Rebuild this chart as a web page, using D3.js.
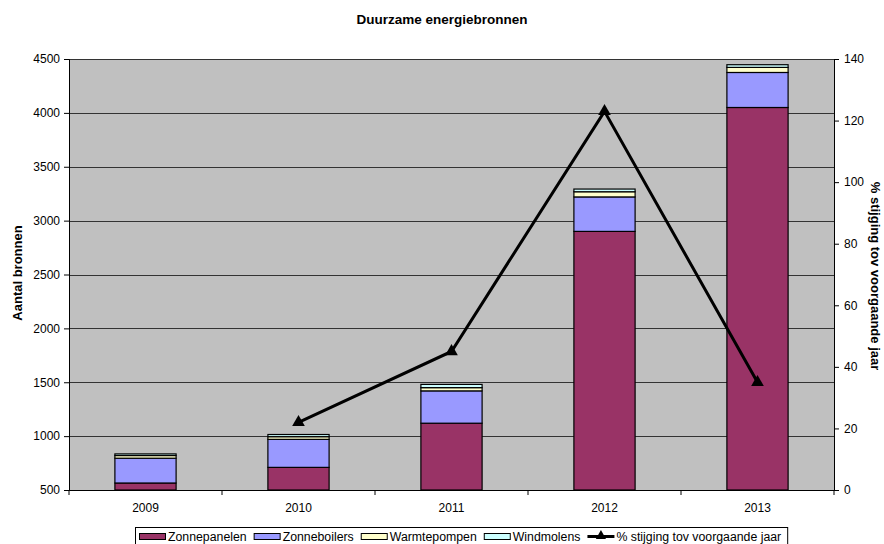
<!DOCTYPE html>
<html><head><meta charset="utf-8">
<script src="https://cdn.jsdelivr.net/npm/d3@7"></script>
<style>body{margin:0;background:#fff;} text{font-family:"Liberation Sans",Arial,sans-serif;}</style>
</head><body>
<svg id="c" width="884" height="544"></svg>
<script>
const years = ["2009","2010","2011","2012","2013"];
const zonnepanelen = [565, 710, 1120, 2900, 4050];
const zonneboilers = [230, 260, 300, 320, 325];
const warmtepompen = [25, 25, 30, 48, 47];
const windmolens = [15, 20, 30, 25, 25];
const stijging = [null, 22, 45, 123, 35];
const leftTicks = [500,1000,1500,2000,2500,3000,3500,4000,4500];
const rightTicks = [0,20,40,60,80,100,120,140];
const seriesNames = ["Zonnepanelen","Zonneboilers","Warmtepompen","Windmolens"];
const lineName = "% stijging tov voorgaande jaar";
const colors = ["#993366","#9999FF","#FFFFCC","#CCFFFF"];

const svg = d3.select("#c");
const L = 69, R = 834, T = 59, B = 490;
const x = d3.scaleBand().domain(years).range([L,R]).paddingInner(0.6).paddingOuter(0.3);
const xb = d3.scaleBand().domain(years).range([L,R]);
const y = d3.scaleLinear().domain([500,4500]).range([B,T]);
const y2 = d3.scaleLinear().domain([0,140]).range([B,T]);

svg.append("rect").attr("x",L).attr("y",T).attr("width",R-L).attr("height",B-T).attr("fill","#C0C0C0");
svg.append("g").selectAll("line").data(leftTicks.slice(1)).join("line")
  .attr("x1",L).attr("x2",R).attr("y1",d=>Math.round(y(d))+0.5).attr("y2",d=>Math.round(y(d))+0.5)
  .attr("stroke","#333").attr("stroke-width",1);

const rows = years.map((yr,i)=>({year:yr, Zonnepanelen:zonnepanelen[i], Zonneboilers:zonneboilers[i], Warmtepompen:warmtepompen[i], Windmolens:windmolens[i]}));
const stack = d3.stack().keys(seriesNames)(rows);
const clip = v => Math.max(v, 500);
svg.append("g").selectAll("g").data(stack).join("g").attr("fill",(d,i)=>colors[i])
  .selectAll("rect").data(d=>d).join("rect")
  .attr("x",d=>x(d.data.year)).attr("width",x.bandwidth())
  .attr("y",d=>y(clip(d[1]))).attr("height",d=>y(clip(d[0]))-y(clip(d[1])))
  .attr("stroke","#000").attr("stroke-width",1.2);

// axes
const ga = svg.append("g").attr("transform",`translate(${L},0)`)
  .call(d3.axisLeft(y).tickValues(leftTicks).tickSize(5).tickPadding(4).tickFormat(d3.format("d")));
const gr = svg.append("g").attr("transform",`translate(${R},0)`)
  .call(d3.axisRight(y2).tickValues(rightTicks).tickSize(5).tickPadding(5).tickFormat(d3.format("d")));
const gb = svg.append("g").attr("transform",`translate(0,${B})`)
  .call(d3.axisBottom(xb).tickSize(0).tickPadding(13));
[ga,gr,gb].forEach(g=>{g.selectAll("text").attr("font-size",12).attr("fill","#000").attr("font-family","Liberation Sans, Arial"); g.select(".domain").attr("stroke","#000"); g.selectAll("line").attr("stroke","#000");});
gb.selectAll(".tick line").remove();
gb.selectAll("line.sep").data(d3.range(years.length+1)).join("line").attr("class","sep")
  .attr("x1",i=>L+i*xb.step()).attr("x2",i=>L+i*xb.step()).attr("y1",0).attr("y2",5).attr("stroke","#000");
gb.select(".domain").attr("d",`M${L},0.5H${R}`);

// line
const lineData = years.map((yr,i)=>({year:yr,v:stijging[i]})).filter(d=>d.v!=null);
const cx = d=>xb(d.year)+xb.bandwidth()/2;
svg.append("path").datum(lineData).attr("fill","none").attr("stroke","#000").attr("stroke-width",3)
  .attr("d",d3.line().x(cx).y(d=>y2(d.v)));
svg.append("g").selectAll("path").data(lineData).join("path")
  .attr("transform",d=>`translate(${cx(d)},${y2(d.v)})`)
  .attr("d",d3.symbol(d3.symbolTriangle,70)).attr("fill","#000");

// titles
svg.append("text").attr("x",442).attr("y",24).attr("text-anchor","middle").attr("font-size",13.5).attr("font-weight","bold").text("Duurzame energiebronnen");
svg.append("text").attr("transform","translate(22,273) rotate(-90)").attr("text-anchor","middle").attr("font-size",13).attr("font-weight","bold").text("Aantal bronnen");
svg.append("text").attr("transform","translate(871,276) rotate(90)").attr("text-anchor","middle").attr("font-size",13).attr("font-weight","bold").text(lineName);

// legend
const lg = svg.append("g");
const items = seriesNames.map((n,i)=>({name:n,color:colors[i],type:"rect"})).concat([{name:lineName,type:"line"}]);
let cxp = 139;
const ly = 537;
items.forEach(it=>{
  if(it.type==="rect"){
    lg.append("rect").attr("x",cxp+0.5).attr("y",ly-3.5).attr("width",26).attr("height",6).attr("fill",it.color).attr("stroke","#000");
  } else {
    lg.append("line").attr("x1",cxp).attr("x2",cxp+27).attr("y1",ly-0.5).attr("y2",ly-0.5).attr("stroke","#000").attr("stroke-width",3);
    lg.append("path").attr("transform",`translate(${cxp+13.5},${ly-1})`).attr("d",d3.symbol(d3.symbolTriangle,45)).attr("fill","#000");
  }
  const t = lg.append("text").attr("x",cxp+29).attr("y",ly+4).attr("font-size",12.3).text(it.name);
  cxp += 29 + t.node().getComputedTextLength() + 7;
});
lg.insert("rect",":first-child").attr("x",135.5).attr("y",527.5).attr("width",cxp-136).attr("height",20).attr("fill","#fff").attr("stroke","#000");
</script>
</body></html>
